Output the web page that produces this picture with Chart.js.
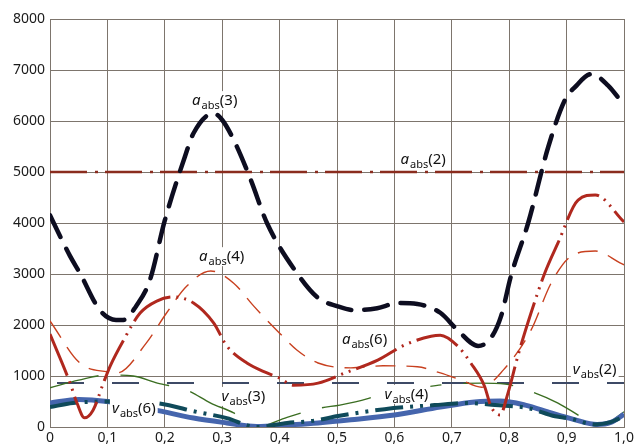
<!DOCTYPE html>
<html lang="en">
<head>
<meta charset="UTF-8">
<title>a_abs / v_abs</title>
<script src="https://cdn.jsdelivr.net/npm/chart.js"></script>
<style>
  html, body { margin: 0; padding: 0; background: #fff; }
  #wrap { position: relative; width: 638px; height: 446px; }
</style>
</head>
<body>
<div id="wrap"><canvas id="chart"></canvas></div>
<script>
// x axis 0..1, y axis 0..8000
const yMax = 8000;
const yStep = 1000;
const xStep = 0.1;

// a_abs(3)
const a3X = [0, 0.035, 0.052, 0.087, 0.115, 0.128, 0.15, 0.174, 0.2, 0.235, 0.25, 0.285, 0.3, 0.32, 0.35, 0.378, 0.43, 0.467, 0.5, 0.53, 0.57, 0.606, 0.64, 0.68, 0.71, 0.746, 0.768, 0.786, 0.803, 0.833, 0.868, 0.897, 0.915, 0.943, 0.972, 1.0];
const a3Y = [4150, 3350, 3020, 2290, 2100, 2100, 2370, 2880, 4050, 5300, 5760, 6150, 6020, 5630, 4840, 4000, 3020, 2530, 2370, 2290, 2330, 2430, 2410, 2240, 1900, 1590, 1745, 2180, 2960, 4000, 5490, 6410, 6670, 6920, 6700, 6310];

// a_abs(2)
const a2X = [0, 1];
const a2Y = [5000, 5000];

// a_abs(4)
const a4X = [0, 0.052, 0.1, 0.117, 0.168, 0.203, 0.238, 0.28, 0.32, 0.355, 0.4, 0.43, 0.467, 0.524, 0.58, 0.64, 0.68, 0.716, 0.752, 0.79, 0.838, 0.873, 0.908, 0.95, 0.993, 1.0];
const a4Y = [2080, 1255, 1080, 1060, 1650, 2235, 2760, 3060, 2820, 2370, 1840, 1510, 1255, 1160, 1200, 1180, 1060, 920, 780, 1120, 1900, 2820, 3350, 3450, 3220, 3180];

// a_abs(6)
const a6X = [0, 0.035, 0.047, 0.06, 0.075, 0.093, 0.105, 0.128, 0.157, 0.186, 0.215, 0.25, 0.285, 0.308, 0.343, 0.378, 0.4, 0.424, 0.467, 0.514, 0.571, 0.618, 0.664, 0.68, 0.71, 0.733, 0.757, 0.768, 0.784, 0.798, 0.815, 0.838, 0.862, 0.885, 0.92, 0.95, 1.0];
const a6Y = [1820, 860, 470, 180, 330, 860, 1200, 1700, 2235, 2470, 2550, 2430, 2040, 1590, 1255, 1060, 960, 820, 860, 1060, 1310, 1610, 1780, 1800, 1590, 1255, 800, 410, 235, 670, 1390, 2235, 3020, 3610, 4450, 4550, 4020];

// v_abs(2)
const v2X = [0, 1];
const v2Y = [865, 865];

// v_abs(3)
const v3X = [0, 0.05, 0.1, 0.145, 0.187, 0.238, 0.28, 0.32, 0.36, 0.413, 0.47, 0.505, 0.552, 0.58, 0.65, 0.7, 0.75, 0.793, 0.836, 0.885, 0.923, 0.95, 0.972, 1.0];
const v3Y = [770, 920, 1020, 1000, 860, 725, 470, 275, 0, 190, 370, 430, 550, 665, 780, 845, 860, 840, 705, 470, 215, 40, 80, 300];

// v_abs(4)
const v4X = [0, 0.04, 0.1, 0.183, 0.256, 0.308, 0.36, 0.413, 0.458, 0.502, 0.583, 0.67, 0.728, 0.775, 0.833, 0.88, 0.905, 0.95, 0.975, 1.0];
const v4Y = [390, 470, 500, 470, 295, 175, 0, 80, 120, 215, 350, 430, 470, 430, 370, 210, 170, 50, 90, 210];

// v_abs(6)
const v6X = [0, 0.05, 0.1, 0.183, 0.25, 0.308, 0.36, 0.413, 0.467, 0.524, 0.6, 0.68, 0.74, 0.784, 0.828, 0.873, 0.912, 0.953, 0.977, 1.0];
const v6Y = [470, 540, 500, 335, 175, 80, 10, 40, 80, 140, 235, 390, 490, 510, 430, 275, 150, 50, 90, 250];

// curve labels: symbol, index, centre in data units
const labelSym = ['a', 'a', 'a', 'a', 'v', 'v', 'v', 'v'];
const labelIdx = ['3', '2', '4', '6', '2', '3', '4', '6'];
const labelX = [0.287, 0.65, 0.299, 0.548, 0.949, 0.337, 0.621, 0.146];
const labelY = [6390, 5240, 3330, 1700, 1120, 590, 630, 360];

function pts(xs, ys) {
  return xs.map((x, i) => ({ x: x, y: ys[i] }));
}

const FONT = "'Noto Sans', 'Open Sans', sans-serif";

const curveLabels = {
  id: 'curveLabels',
  afterDatasetsDraw(chart) {
    const ctx = chart.ctx;
    const xs = chart.scales.x, ys = chart.scales.y;
    ctx.save();
    ctx.textBaseline = 'alphabetic';
    for (let i = 0; i < labelSym.length; i++) {
      const cx = xs.getPixelForValue(labelX[i]);
      const cy = ys.getPixelForValue(labelY[i]);
      const fBig = 'italic 15px ' + FONT;
      const fSub = '11px ' + FONT;
      const fPar = '15px ' + FONT;
      ctx.font = fBig; const w1 = ctx.measureText(labelSym[i]).width;
      ctx.font = fSub; const w2 = ctx.measureText('abs').width;
      ctx.font = fPar; const w3 = ctx.measureText('(' + labelIdx[i] + ')').width;
      const w = w1 + w2 + w3 + 1;
      const left = cx - w / 2;
      const base = cy + 4;
      ctx.fillStyle = '#fff';
      ctx.fillRect(left - 2, cy - 10, w + 4, 19);
      ctx.fillStyle = '#111';
      ctx.font = fBig; ctx.fillText(labelSym[i], left, base);
      ctx.font = fSub; ctx.fillText('abs', left + w1 + 1, base + 4);
      ctx.font = fPar; ctx.fillText('(' + labelIdx[i] + ')', left + w1 + w2 + 1, base);
    }
    ctx.restore();
  }
};

const common = { fill: false, pointRadius: 0, cubicInterpolationMode: 'monotone' };

new Chart(document.getElementById('chart'), {
  type: 'line',
  data: {
    datasets: [
      Object.assign({ label: 'a_abs(3)', data: pts(a3X, a3Y), borderColor: '#0d0d20', borderWidth: 4.5, borderDash: [24, 13], borderCapStyle: 'round' }, common),
      Object.assign({ label: 'a_abs(6)', data: pts(a6X, a6Y), borderColor: '#b0281e', borderWidth: 3, borderDash: [45, 6, 2, 6, 2, 6] }, common),
      Object.assign({ label: 'a_abs(4)', data: pts(a4X, a4Y), borderColor: '#c8401f', borderWidth: 1.4, borderDash: [20, 11] }, common),
      Object.assign({ label: 'a_abs(2)', data: pts(a2X, a2Y), borderColor: '#8a2c1e', borderWidth: 2.5, borderDash: [37, 8, 3, 7] }, common),
      Object.assign({ label: 'v_abs(4)', data: pts(v4X, v4Y), borderColor: '#0f4a5a', borderWidth: 4, borderDash: [28, 7, 3, 7, 3, 7] }, common),
      Object.assign({ label: 'v_abs(6)', data: pts(v6X, v6Y), borderColor: '#4565ad', borderWidth: 5 }, common),
      Object.assign({ label: 'v_abs(3)', data: pts(v3X, v3Y), borderColor: '#3b6e22', borderWidth: 1.4, borderDash: [50, 22] }, common),
      Object.assign({ label: 'v_abs(2)', data: pts(v2X, v2Y), borderColor: '#3d4a66', borderWidth: 2, borderDash: [27, 28], borderDashOffset: 48 }, common)
    ]
  },
  options: {
    responsive: true,
    maintainAspectRatio: false,
    animation: false,
    layout: { padding: { top: 19, right: 14, left: 0, bottom: 0 } },
    plugins: { legend: { display: false }, tooltip: { enabled: false } },
    scales: {
      x: {
        type: 'linear',
        min: 0,
        max: 1,
        grid: { color: '#7d756d', lineWidth: 1, drawTicks: false },
        border: { color: '#7d756d' },
        ticks: {
          stepSize: xStep,
          padding: 3,
          color: '#1a1a1a',
          font: { family: FONT, size: 14 },
          maxRotation: 0,
          callback: v => v === 0 ? '0' : v.toFixed(1).replace('.', ',')
        },
        afterFit: s => { s.height = 19; }
      },
      y: {
        min: 0,
        max: yMax,
        grid: { color: '#7d756d', lineWidth: 1, drawTicks: false },
        border: { color: '#7d756d' },
        ticks: {
          stepSize: yStep,
          padding: 5,
          color: '#1a1a1a',
          font: { family: FONT, size: 14 },
          callback: v => String(v)
        },
        afterFit: s => { s.width = 50; }
      }
    }
  },
  plugins: [curveLabels]
});
</script>
</body>
</html>
